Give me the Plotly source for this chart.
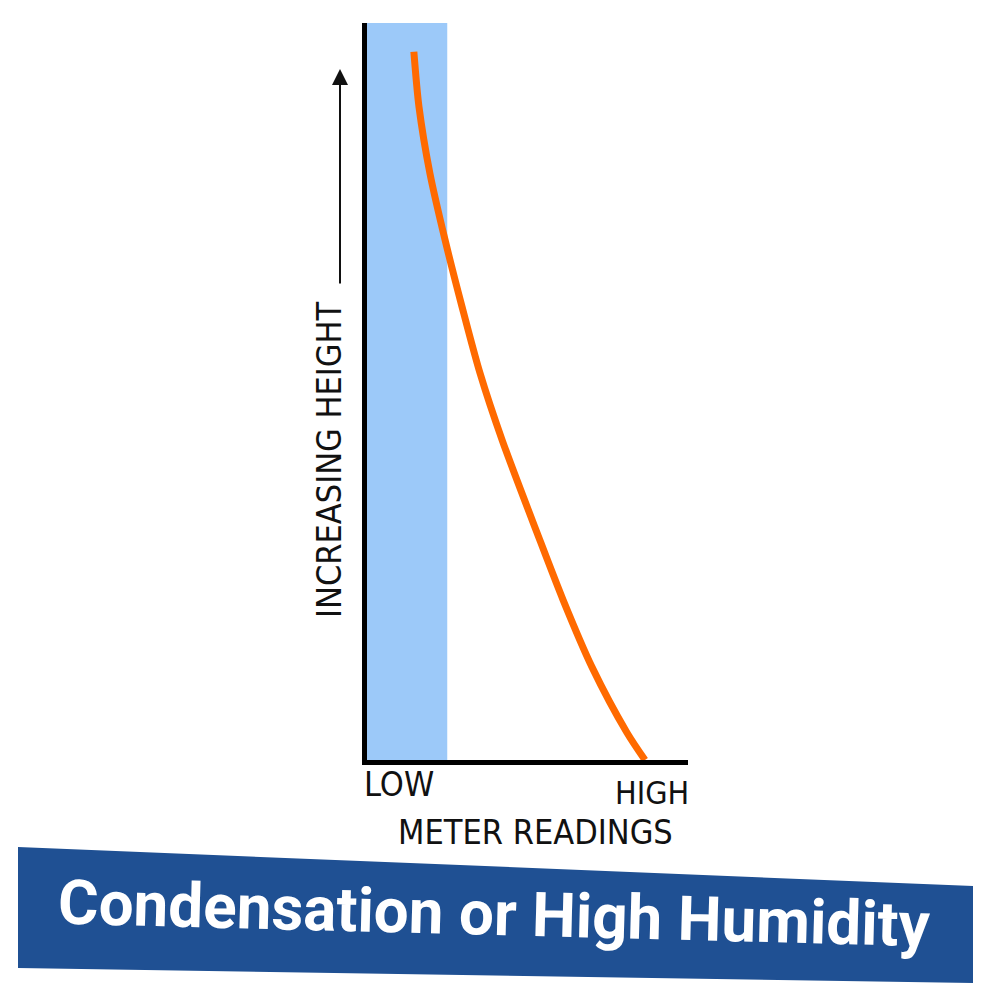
import plotly.graph_objects as go

# ---- data (abstract units: meter reading 0-100, height 0-100) ----
reading = [14.6, 16.2, 19.6, 24.3, 29.6, 35.2, 42.1, 53.0, 61.1, 70.1, 81.0, 86.6]
height = [96.1, 88.6, 79.6, 70.6, 61.5, 52.5, 43.4, 30.8, 21.7, 12.6, 3.7, 0.0]
low_zone_start = 0
low_zone_end = 25
max_height = 100
tick_labels = ["LOW", "HIGH"]
x_title = "METER READINGS"
y_title = "INCREASING HEIGHT"
banner_text = "Condensation or High Humidity"

FONT = "DejaVu Sans Condensed, Roboto, sans-serif"
BFONT = "Roboto, Liberation Sans, Arial, sans-serif"

W, H = 1000, 1000
L, R, T, B = 367, 312, 23, 240
pw, ph = W - L - R, H - T - B


def px(x):
    return (x - L) / pw


def py(y):
    return (H - B - y) / ph


fig = go.Figure()

# low reading zone (blue band)
fig.add_trace(go.Scatter(
    x=[low_zone_start, low_zone_end, low_zone_end, low_zone_start, low_zone_start],
    y=[0, 0, max_height, max_height, 0],
    fill="toself", fillcolor="#9CC9F9", mode="none", hoverinfo="skip",
    showlegend=False))

# meter reading curve
fig.add_trace(go.Scatter(
    x=reading, y=height, mode="lines",
    line=dict(color="#FF6A00", width=7, shape="spline", smoothing=0.8),
    showlegend=False))

fig.update_xaxes(range=[0, 100], showgrid=False, zeroline=False,
                 showticklabels=False, ticks="", showline=True,
                 linecolor="black", linewidth=5)
fig.update_yaxes(range=[0, 100], showgrid=False, zeroline=False,
                 showticklabels=False, ticks="", showline=True,
                 linecolor="black", linewidth=5)

ann = []
# tick labels
ann.append(dict(text=tick_labels[0], xref="paper", yref="paper",
                x=px(362), y=py(784), xanchor="left", yanchor="middle",
                showarrow=False, font=dict(family=FONT, size=34, color="#111")))
ann.append(dict(text=tick_labels[1], xref="paper", yref="paper",
                x=px(691), y=py(793), xanchor="right", yanchor="middle",
                showarrow=False, font=dict(family=FONT, size=32, color="#111")))
ann.append(dict(text=x_title, xref="paper", yref="paper",
                x=px(535), y=py(832), xanchor="center", yanchor="middle",
                showarrow=False, font=dict(family=FONT, size=34, color="#111")))
ann.append(dict(text=y_title, xref="paper", yref="paper",
                x=px(329), y=py(460), xanchor="center", yanchor="middle",
                textangle=-90, showarrow=False,
                font=dict(family=FONT, size=34, color="#111")))
# arrow
ann.append(dict(text="", xref="paper", yref="paper", x=px(340), y=py(69),
                axref="pixel", ayref="pixel", ax=0, ay=216,
                showarrow=True, arrowhead=2, arrowsize=1.6, arrowwidth=2,
                arrowcolor="#111"))
# banner text
ann.append(dict(text="<b>" + banner_text + "</b>", xref="paper", yref="paper",
                x=px(494), y=py(913), xanchor="center", yanchor="middle",
                textangle=1.5, showarrow=False,
                font=dict(family=BFONT, size=62, color="white")))

banner_path = "M {},{} L {},{} L {},{} L {},{} Z".format(
    px(18), py(847), px(973), py(886), px(973), py(983), px(18), py(968))

fig.update_layout(
    width=W, height=H,
    margin=dict(l=L, r=R, t=T, b=B),
    paper_bgcolor="white", plot_bgcolor="white",
    annotations=ann,
    shapes=[dict(type="path", path=banner_path, xref="paper", yref="paper",
                 fillcolor="#1F5093", line=dict(width=0), layer="below")],
)

fig.write_html("out.html",
               config={"displayModeBar": False},
               post_script="document.body.style.margin='0';"
                           "document.body.style.overflow='hidden';")
